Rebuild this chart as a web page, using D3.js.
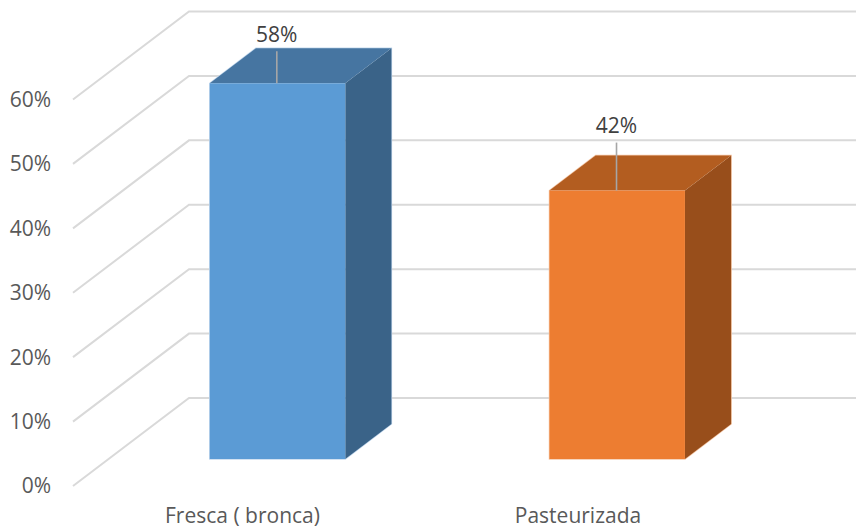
<!DOCTYPE html>
<html><head><meta charset="utf-8">
<script src="https://cdn.jsdelivr.net/npm/d3@7/dist/d3.min.js"></script>
<style>html,body{margin:0;padding:0;background:#fff}svg{display:block}text{font-family:"Open Sans",sans-serif}</style>
</head><body><svg width="856" height="531"></svg>
<script>
const categories = ["Fresca ( bronca)", "Pasteurizada"];
const values = [58.33, 41.67];
const valueLabels = ["58%", "42%"];
const yTicks = [0, 10, 20, 30, 40, 50, 60];
const frontColors = ["#5b9bd5", "#ed7d31"];
const topColors = ["#4675a1", "#b35d20"];
const sideColors = ["#3a6388", "#984e1b"];
const edgeColors = ["#c4d9ee", "#f5c8a8"];

const svg = d3.select("svg");
const y = d3.scaleLinear().domain([0, 60]).range([486, 99.5]);
const x = d3.scaleBand().domain(categories).range([72.05, 751.45]);
const xLabel = d3.scalePoint().domain(categories).range([242.5, 578]);
const DX = 116, DY = -88;
const px = (xv, d) => xv + DX * d;
const py = (yv, d) => y(yv) + DY * d;
const barFront = 0.307, barBack = 0.705;

const grid = svg.append("g").attr("fill", "none").attr("stroke", "#d9d9d9").attr("stroke-width", 2);
grid.selectAll("path").data(yTicks).join("path")
  .attr("d", t => d3.line()([[73, py(t, 0)], [px(73, 1), py(t, 1)], [860, py(t, 1)]]));

svg.append("g").selectAll("text").data(yTicks).join("text")
  .attr("x", 51).attr("y", t => y(t)).attr("dy", "0.35em").attr("text-anchor", "end")
  .attr("font-size", 21).attr("fill", "#595959").text(t => t + "%");

svg.append("g").selectAll("text").data(categories).join("text")
  .attr("x", c => xLabel(c)).attr("y", 523).attr("text-anchor", "middle")
  .attr("font-size", 21).attr("fill", "#595959").text(c => c);

const barWidth = 135.5;
const bars = svg.append("g").selectAll("g").data(categories).join("g");
const L = c => x(c) + x.bandwidth() / 2 - barWidth / 2;
const R = c => x(c) + x.bandwidth() / 2 + barWidth / 2;
const poly = pts => d3.line()(pts) + "Z";
const sidePts = (c, v) => [
  [px(R(c), barFront), py(0, barFront)], [px(R(c), barBack), py(0, barBack)],
  [px(R(c), barBack), py(v, barBack)], [px(R(c), barFront), py(v, barFront)]];
const topPts = (c, v) => [
  [px(L(c), barFront), py(v, barFront)], [px(R(c), barFront), py(v, barFront)],
  [px(R(c), barBack), py(v, barBack)], [px(L(c), barBack), py(v, barBack)]];
const frontPts = (c, v) => [
  [px(L(c), barFront), py(0, barFront)], [px(R(c), barFront), py(0, barFront)],
  [px(R(c), barFront), py(v, barFront)], [px(L(c), barFront), py(v, barFront)]];
const outlinePts = (c, v) => [
  [px(L(c), barFront), py(0, barFront)], [px(R(c), barFront), py(0, barFront)],
  [px(R(c), barBack), py(0, barBack)], [px(R(c), barBack), py(v, barBack)],
  [px(L(c), barBack), py(v, barBack)], [px(L(c), barFront), py(v, barFront)]];

bars.append("path").attr("fill", "none").attr("stroke", (c, i) => edgeColors[i]).attr("stroke-width", 1.4)
  .attr("d", (c, i) => poly(outlinePts(c, values[i])));
bars.append("path").attr("fill", (c, i) => sideColors[i]).attr("d", (c, i) => poly(sidePts(c, values[i])));
bars.append("path").attr("fill", (c, i) => topColors[i]).attr("d", (c, i) => poly(topPts(c, values[i])));
bars.append("path").attr("fill", (c, i) => frontColors[i]).attr("d", (c, i) => poly(frontPts(c, values[i])));

const leaderLen = [32, 48];
const cx = c => px((L(c) + R(c)) / 2, barFront) - 0.7;
bars.append("line").attr("stroke", "#a6a6a6").attr("stroke-width", 1.6)
  .attr("x1", cx).attr("x2", cx)
  .attr("y1", (c, i) => py(values[i], barFront)).attr("y2", (c, i) => py(values[i], barFront) - leaderLen[i]);
bars.append("text").attr("text-anchor", "middle").attr("font-size", 21).attr("fill", "#404040")
  .attr("x", cx)
  .attr("y", (c, i) => py(values[i], barFront) - leaderLen[i] - 9.5)
  .text((c, i) => valueLabels[i]);
</script></body></html>
